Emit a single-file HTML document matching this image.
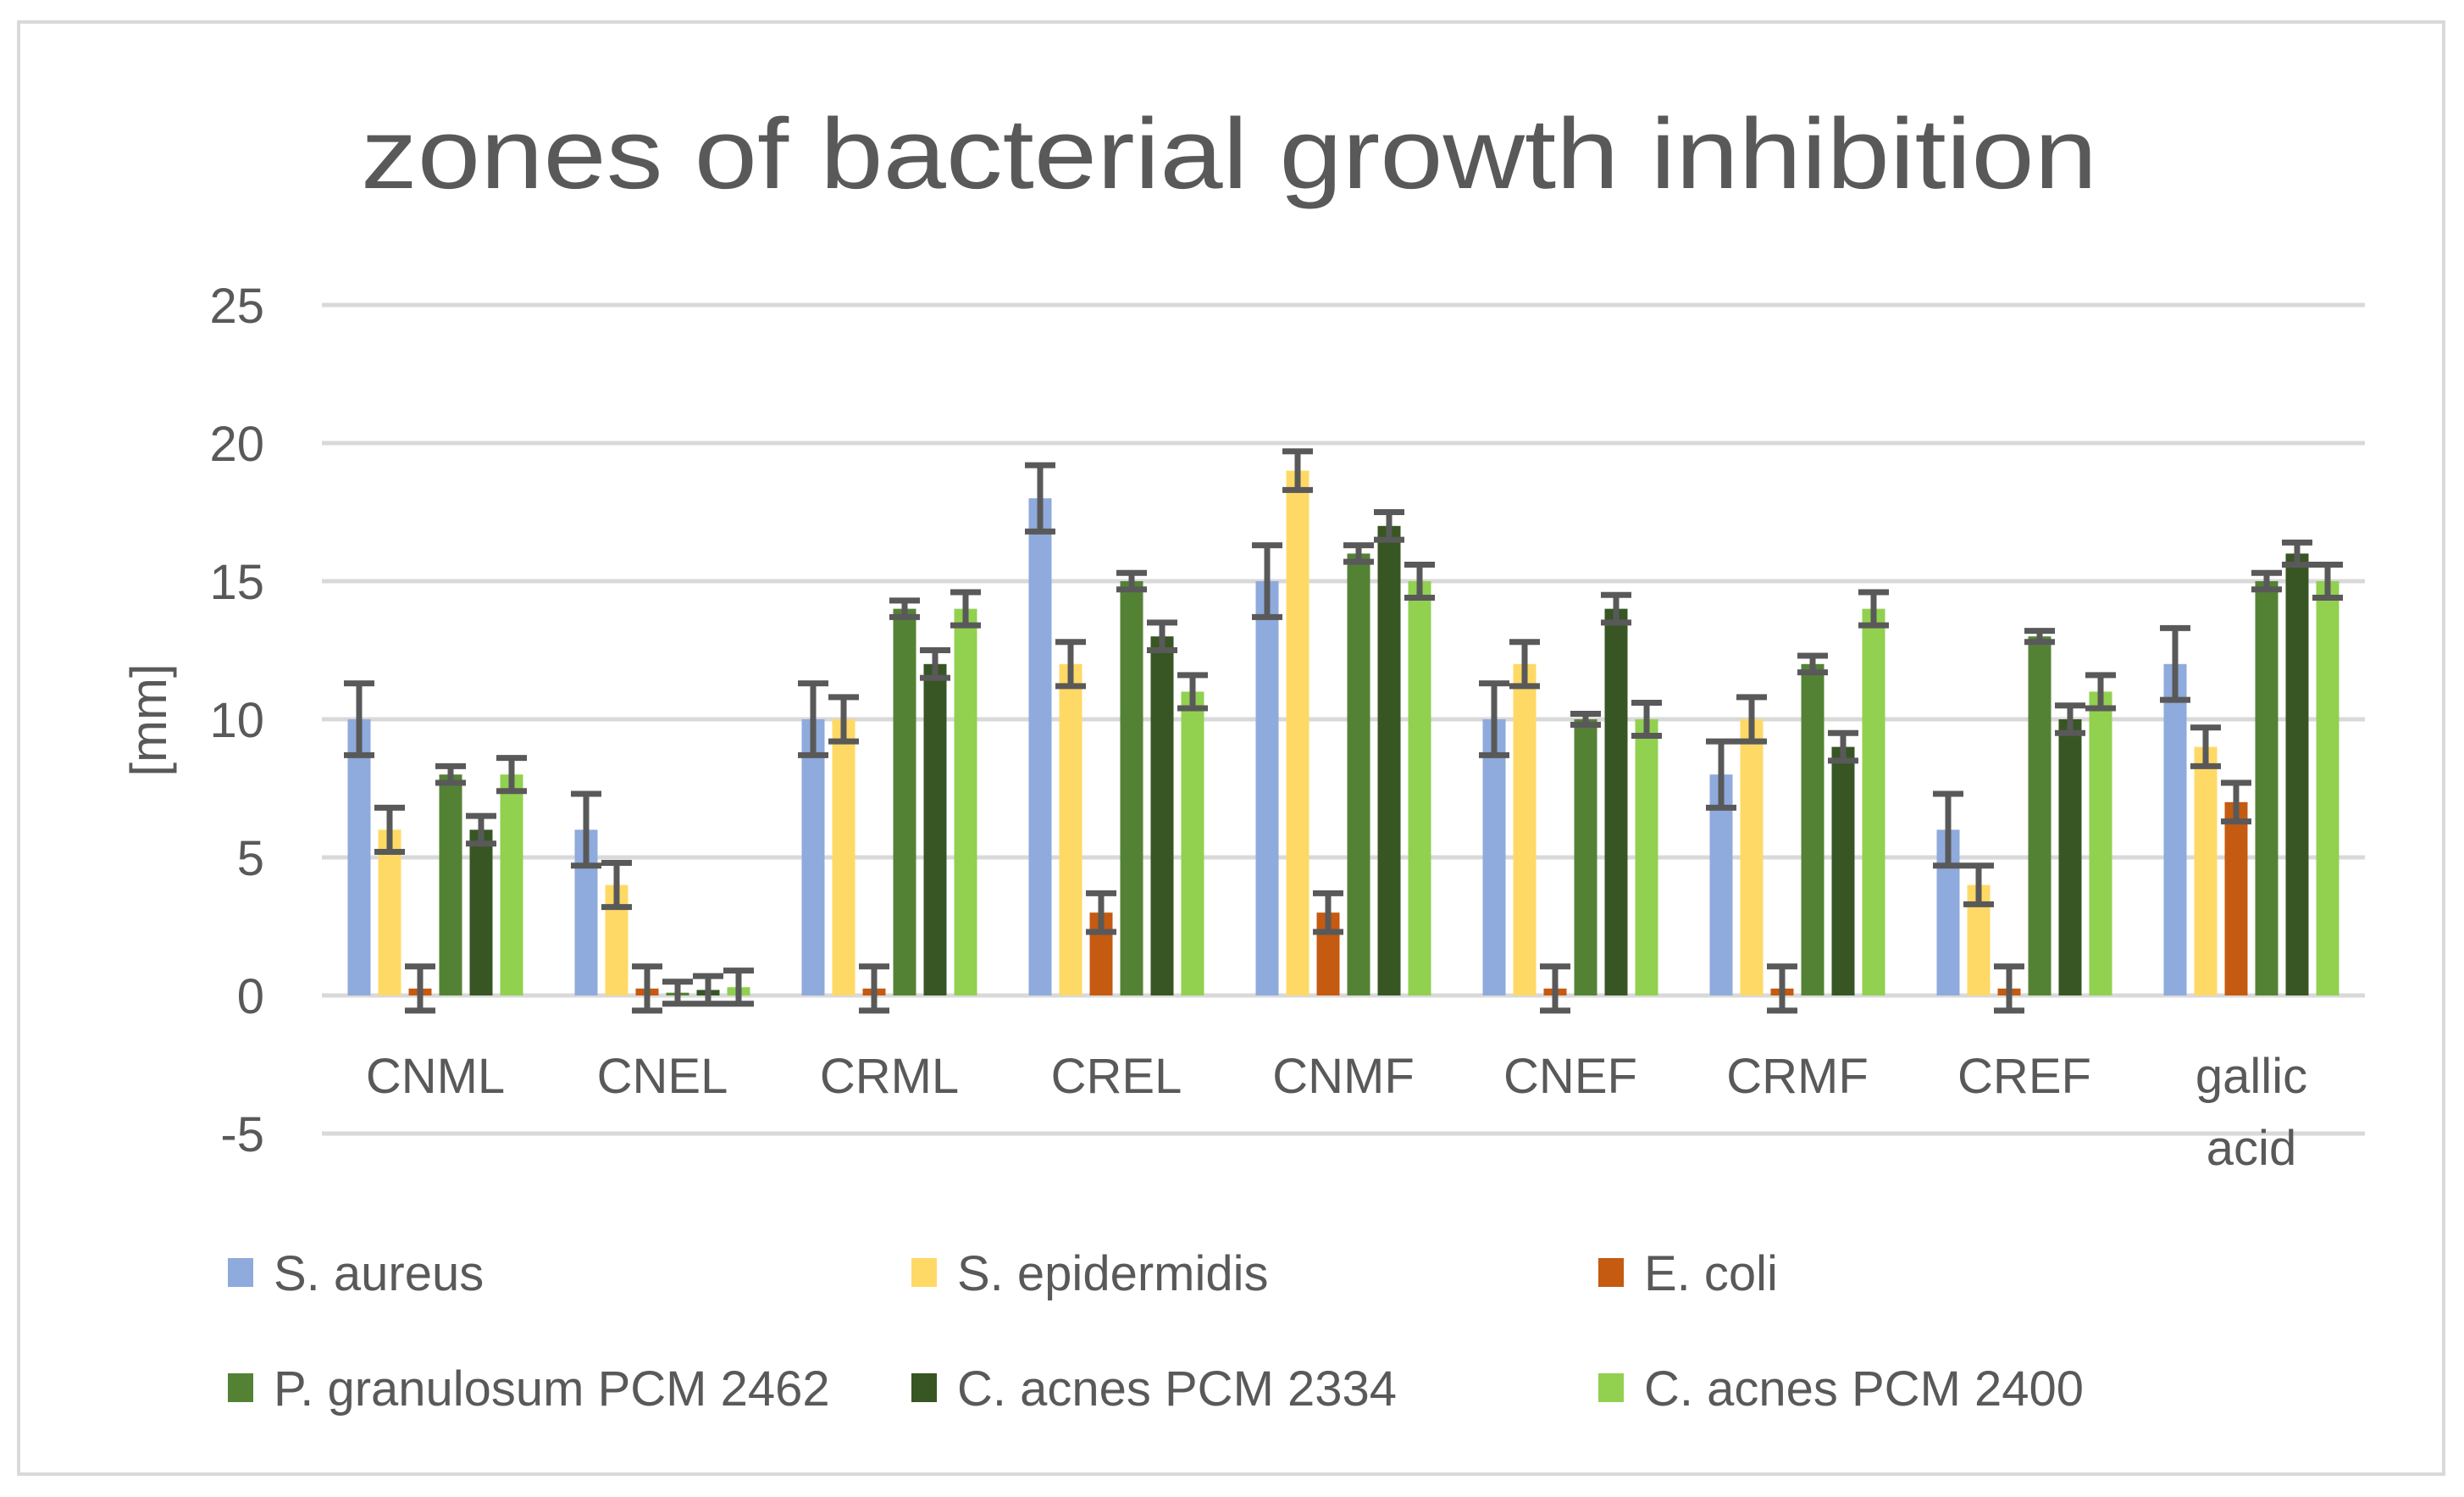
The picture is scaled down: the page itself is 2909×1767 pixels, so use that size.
<!DOCTYPE html>
<html><head><meta charset="utf-8"><style>
html,body{margin:0;padding:0;background:#fff;}
svg{display:block;font-family:"Liberation Sans",sans-serif;}
</style></head><body>
<svg id="chart" width="2909" height="1767" viewBox="0 0 2909 1767">
<rect x="22" y="26" width="2863" height="1714" fill="#fff" stroke="#d9d9d9" stroke-width="4"/>
<text x="1451" y="222" text-anchor="middle" font-size="118" fill="#595959" textLength="2050" lengthAdjust="spacingAndGlyphs">zones of bacterial growth inhibition</text>
<text transform="translate(196,850) rotate(-90)" text-anchor="middle" font-size="60" fill="#595959">[mm]</text>
<g id="grid"></g><g id="bars"></g><g id="errs"></g><g id="xlabels"></g><g id="legend"></g>
</svg>
<script>
const categories=["CNML","CNEL","CRML","CREL","CNMF","CNEF","CRMF","CREF","gallic acid"];
const seriesNames=["S. aureus","S. epidermidis","E. coli","P. granulosum PCM 2462","C. acnes PCM 2334","C. acnes PCM 2400"];
const sAureus=[10,6,10,18,15,10,8,6,12];
const sAureusErr=[1.3,1.3,1.3,1.2,1.3,1.3,1.2,1.3,1.3];
const sEpi=[6,4,10,12,19,12,10,4,9];
const sEpiErr=[0.8,0.8,0.8,0.8,0.7,0.8,0.8,0.7,0.7];
const eColi=[0.25,0.25,0.25,3,3,0.25,0.25,0.25,7];
const eColiErr=[0.8,0.8,0.8,0.7,0.7,0.8,0.8,0.8,0.7];
const pGran=[8,0.1,14,15,16,10,12,13,15];
const pGranErr=[0.3,0.4,0.3,0.3,0.3,0.2,0.3,0.2,0.3];
const cAcnes2334=[6,0.2,12,13,17,14,9,10,16];
const cAcnes2334Err=[0.5,0.5,0.5,0.5,0.5,0.5,0.5,0.5,0.4];
const cAcnes2400=[8,0.3,14,11,15,10,14,11,15];
const cAcnes2400Err=[0.6,0.6,0.6,0.6,0.6,0.6,0.6,0.6,0.6];
const yTicks=[-5,0,5,10,15,20,25];
const colors=["#8faadc","#ffd966","#c55a11","#548235","#375623","#92d050"];
const series=[sAureus,sEpi,eColi,pGran,cAcnes2334,cAcnes2400];
const errs=[sAureusErr,sEpiErr,eColiErr,pGranErr,cAcnes2334Err,cAcnes2400Err];
const NS="http://www.w3.org/2000/svg";
const X0=380,X1=2792,Y0=1175,PU=32.6;
const y=v=>Y0-v*PU;
const catW=(X1-X0)/categories.length;
const barW=27,pitch=36;
const xBar=(c,s)=>X0+catW*c+catW/2-(pitch*6-(pitch-barW))/2+s*pitch;
function mk(t,a,p){const e=document.createElementNS(NS,t);for(const k in a)e.setAttribute(k,a[k]);p.appendChild(e);return e;}
const grid=document.getElementById('grid');
yTicks.forEach(t=>{
  const l=mk('line',{x1:X0,x2:X1,y1:y(t),y2:y(t),stroke:'#d9d9d9','stroke-width':5},grid);
  
  
  const tx=mk('text',{x:312,y:y(t)+21,'text-anchor':'end','font-size':58,fill:'#595959'},grid);
  tx.textContent=t;
  
  
});
const bars=document.getElementById('bars'),eg=document.getElementById('errs');
series.forEach((arr,s)=>{arr.forEach((v,c)=>{
  const x=xBar(c,s);
  const r=mk('rect',{x:x,y:Math.min(y(v),Y0),width:barW,height:Math.abs(v*PU),fill:colors[s]},bars);
  
  
  const e=errs[s][c],cx=x+barW/2;
  const g=mk('g',{stroke:'#595959','stroke-width':7,fill:'none'},eg);
  
  
  mk('line',{x1:cx,x2:cx,y1:y(v+e),y2:y(v-e)},g);
  mk('line',{x1:cx-18,x2:cx+18,y1:y(v+e),y2:y(v+e)},g);
  mk('line',{x1:cx-18,x2:cx+18,y1:y(v-e),y2:y(v-e)},g);
});});
const xl=document.getElementById('xlabels');
categories.forEach((c,i)=>{
  const cx=X0+catW*(i+0.5);
  const t=mk('text',{x:cx,y:1290,'text-anchor':'middle','font-size':58,fill:'#595959'},xl);
  
  
  const parts=c.split(' ');
  if(parts.length>1){t.textContent=parts[0];const t2=mk('text',{x:cx,y:1375,'text-anchor':'middle','font-size':58,fill:'#595959'},xl);t2.textContent=parts[1];
    
    }
  else t.textContent=c;
});
const lg=document.getElementById('legend');
const lx=[269,1076,1887],ly=[1503,1639];
seriesNames.forEach((n,i)=>{
  const x=lx[i%3],yy=ly[Math.floor(i/3)];
  const g=mk('g',{},lg);
  
  
  mk('rect',{x:x,y:yy-18,width:30,height:34,fill:colors[i]},g);
  const t=mk('text',{x:x+54,y:yy+20,'font-size':58,fill:'#595959'},g);
  t.textContent=n;
});
</script>
</body></html>
